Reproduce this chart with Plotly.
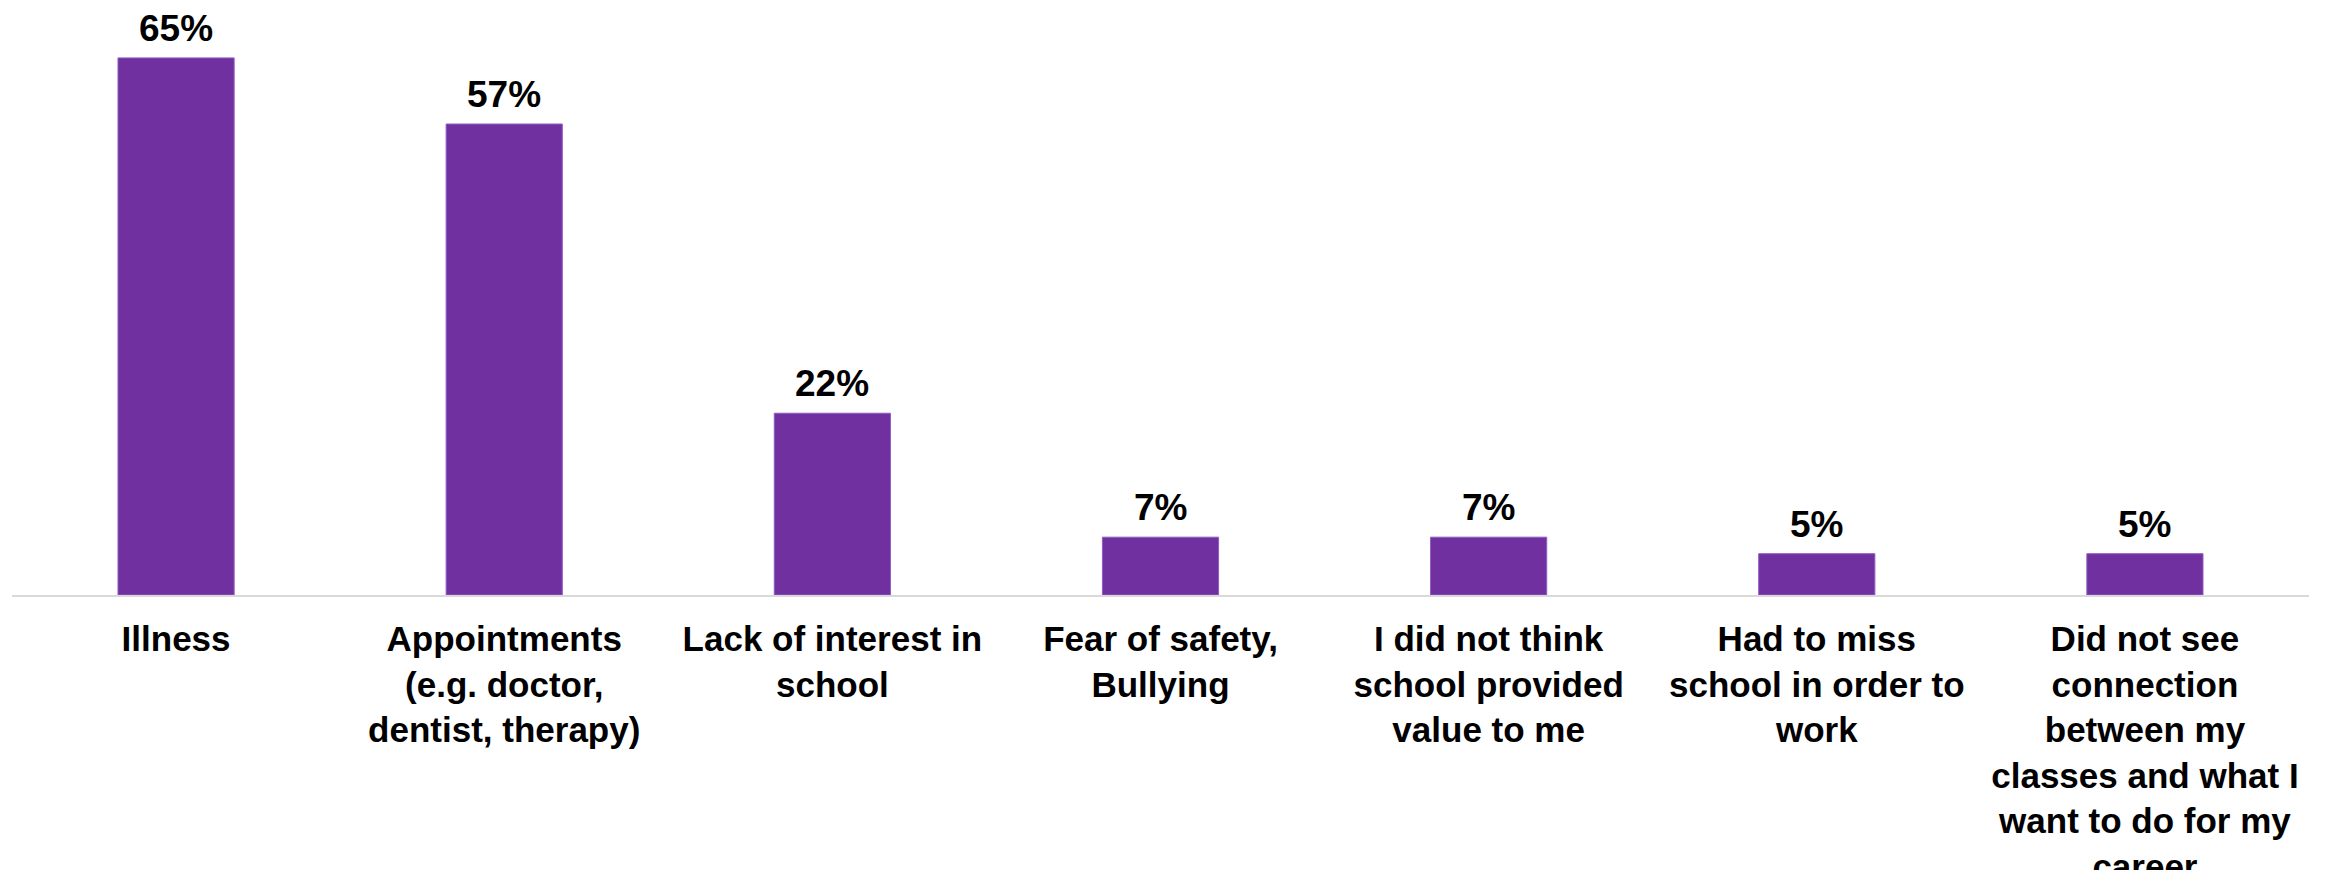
import plotly.graph_objects as go

categories = [
    "Illness",
    "Appointments<br>(e.g. doctor,<br>dentist, therapy)",
    "Lack of interest in<br>school",
    "Fear of safety,<br>Bullying",
    "I did not think<br>school provided<br>value to me",
    "Had to miss<br>school in order to<br>work",
    "Did not see<br>connection<br>between my<br>classes and what I<br>want to do for my<br>career",
]
values = [65, 57, 22, 7, 7, 5, 5]
value_labels = ["65%", "57%", "22%", "7%", "7%", "5%", "5%"]

FONT = "Arial, 'Liberation Sans', sans-serif"
BAR_COLOR = "#7030A0"

fig = go.Figure()
fig.add_trace(go.Bar(
    x=categories,
    y=values,
    marker=dict(color=BAR_COLOR, line=dict(color="#8E5CC0", width=1)),
    hoverinfo="skip",
))

for c, v, t in zip(categories, values, value_labels):
    fig.add_annotation(
        x=c, y=v, text="<b>%s</b>" % t, showarrow=False,
        yanchor="bottom", yshift=7,
        font=dict(family=FONT, size=37, color="#000000"),
    )

fig.update_layout(
    template="none",
    width=2325,
    height=862,
    margin=dict(l=4, r=24, t=2, b=275),
    paper_bgcolor="white",
    plot_bgcolor="white",
    bargap=0.646,
    showlegend=False,
    font=dict(family=FONT, size=35, color="#000000"),
)
fig.update_xaxes(
    showline=True, linecolor="#D9D9D9", linewidth=2,
    showgrid=False, zeroline=False, ticks="",
    tickfont=dict(family=FONT, size=35, color="#000000", weight="bold"),
    tickangle=0, ticklabelstandoff=12,
)
fig.update_yaxes(
    range=[0, 70.8], visible=False, showgrid=False, zeroline=False,
)

fig.write_html("out.html")
